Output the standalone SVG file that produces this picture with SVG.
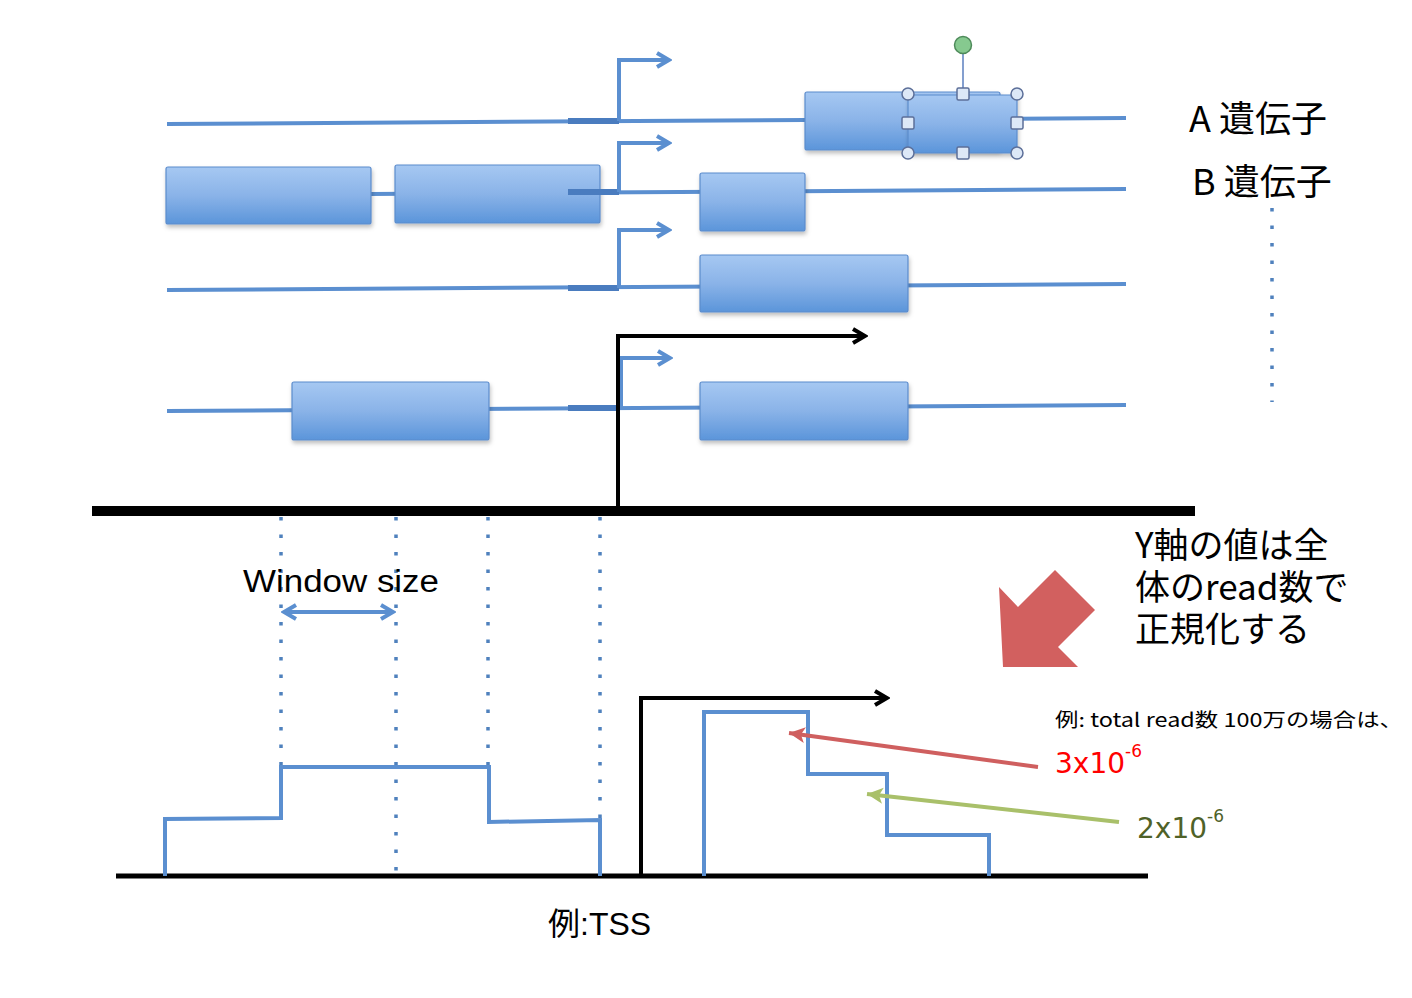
<svg xmlns="http://www.w3.org/2000/svg" width="1412" height="998" viewBox="0 0 1412 998">
<style>
.gl{stroke:#5b8fd0;stroke-width:4;fill:none;stroke-linecap:butt}
.stub{stroke:#4a7cbf;stroke-width:6;fill:none}
.prom{stroke:#5b8fd0;stroke-width:4;fill:none;marker-end:url(#mBlue)}
.box{fill:url(#gBox);stroke:#5b8ccc;stroke-width:1.2;filter:url(#sh)}
.blk{stroke:#000;fill:none}
.dot{stroke:#4f81bd;stroke-width:3.5;stroke-dasharray:3.5 14;fill:none}
.step{stroke:#5b8fd0;stroke-width:4;fill:none;stroke-linejoin:miter}
.jp{font-family:"Noto Sans CJK JP","Noto Sans",sans-serif;fill:#000}
.lat{font-family:"Liberation Sans","Noto Sans CJK JP",sans-serif;fill:#000}
.hc{fill:#dde8f7;stroke:#5c6f99;stroke-width:1.5}
</style>
<defs>
<linearGradient id="gBox" x1="0" y1="0" x2="0" y2="1">
<stop offset="0" stop-color="#a6c8f2"/>
<stop offset="0.5" stop-color="#8ab3e8"/>
<stop offset="1" stop-color="#5b95da"/>
</linearGradient>
<filter id="sh" x="-10%" y="-20%" width="120%" height="150%">
<feDropShadow dx="1" dy="3" stdDeviation="2" flood-color="#000" flood-opacity="0.25"/>
</filter>
<marker id="mBlue" markerUnits="userSpaceOnUse" viewBox="0 0 18 18" refX="15" refY="9" markerWidth="18" markerHeight="18" orient="auto">
<path d="M3,2 L15,9 L3,16" fill="none" stroke="#5b8fd0" stroke-width="4"/>
</marker>
<marker id="mBlueW" markerUnits="userSpaceOnUse" viewBox="0 0 18 18" refX="15" refY="9" markerWidth="18" markerHeight="18" orient="auto-start-reverse">
<path d="M3,2 L15,9 L3,16" fill="none" stroke="#5b8fd0" stroke-width="4"/>
</marker>
<marker id="mBlack" markerUnits="userSpaceOnUse" viewBox="0 0 18 18" refX="15" refY="9" markerWidth="18" markerHeight="18" orient="auto">
<path d="M3,2 L15,9 L3,16" fill="none" stroke="#000" stroke-width="4"/>
</marker>
<marker id="mRed" markerUnits="userSpaceOnUse" viewBox="0 0 20 20" refX="18" refY="10" markerWidth="20" markerHeight="20" orient="auto">
<path d="M2,2 L18,10 L2,18 L6,10 z" fill="#cf5f5f"/>
</marker>
<marker id="mGreen" markerUnits="userSpaceOnUse" viewBox="0 0 20 20" refX="18" refY="10" markerWidth="20" markerHeight="20" orient="auto">
<path d="M2,2 L18,10 L2,18 L6,10 z" fill="#a9c06a"/>
</marker>
</defs>
<rect x="0" y="0" width="1412" height="998" fill="#fff"/>

<g id="geneA">
<path class="gl" d="M167,124 L1126,118"/>
<path class="stub" d="M568,121 L619,121"/>
<rect class="box" x="805" y="92" width="195" height="58" rx="2"/>
<rect class="box" x="908" y="95" width="109" height="58" rx="1"/>
<path class="prom" d="M619,121 V60 H669"/>
</g>
<g id="selection">
<line x1="963" y1="53" x2="963" y2="89" stroke="#5b7fbf" stroke-width="1.5"/>
<circle cx="963" cy="45" r="8.5" fill="#86c98f" stroke="#4e8a5a" stroke-width="1.5"/>
<circle class="hc" cx="908" cy="94" r="6"/>
<circle class="hc" cx="1017" cy="94" r="6"/>
<circle class="hc" cx="908" cy="153" r="6"/>
<circle class="hc" cx="1017" cy="153" r="6"/>
<rect class="hc" x="957" y="88" width="12" height="12" rx="1.5"/>
<rect class="hc" x="957" y="147" width="12" height="12" rx="1.5"/>
<rect class="hc" x="902" y="117" width="12" height="12" rx="1.5"/>
<rect class="hc" x="1011" y="117" width="12" height="12" rx="1.5"/>
</g>

<g id="geneB">
<path class="gl" d="M371,194 L1126,189"/>
<rect class="box" x="166" y="167" width="205" height="57" rx="2"/>
<rect class="box" x="395" y="165" width="205" height="58" rx="2"/>
<path class="stub" d="M568,192 L619,192"/>
<rect class="box" x="700" y="173" width="105" height="58" rx="2"/>
<path class="prom" d="M619,192 V143 H669"/>
</g>

<g id="geneC">
<path class="gl" d="M167,290 L1126,284"/>
<path class="stub" d="M568,288 L619,288"/>
<rect class="box" x="700" y="255" width="208" height="57" rx="2"/>
<path class="prom" d="M619,288 V230 H669"/>
</g>

<g id="geneD">
<path class="gl" d="M167,411 L1126,405"/>
<rect class="box" x="292" y="382" width="197" height="58" rx="2"/>
<path class="stub" d="M568,408 L619,408"/>
<rect class="box" x="700" y="382" width="208" height="58" rx="2"/>
<path class="prom" d="M621,408 V358 H670"/>
</g>

<g id="labels">
<text class="jp" x="1189" y="132" font-size="36">A 遺伝子</text>
<text class="jp" x="1192" y="195" font-size="36">B 遺伝子</text>
<line class="dot" x1="1272" y1="208" x2="1272" y2="402"/>
</g>

<g id="connectors">
<line class="blk" x1="92" y1="511" x2="1195" y2="511" stroke-width="10"/>
<path class="blk" d="M618,511 V336 H865" stroke-width="4" marker-end="url(#mBlack)"/>
<line class="dot" x1="281" y1="517" x2="281" y2="766"/>
<line class="dot" x1="396" y1="517" x2="396" y2="874"/>
<line class="dot" x1="488" y1="517" x2="488" y2="766"/>
<line class="dot" x1="600" y1="517" x2="600" y2="818"/>
<line x1="284" y1="612" x2="393" y2="612" stroke="#5b8fd0" stroke-width="4" marker-start="url(#mBlueW)" marker-end="url(#mBlueW)"/>
<line class="blk" x1="116" y1="876" x2="1148" y2="876" stroke-width="5"/>
<path class="blk" d="M641,876 V698 H887" stroke-width="4" marker-end="url(#mBlack)"/>
<path class="step" d="M165,876 V819 L281,818 V767 H489 V822 L600,820 V876"/>
<path class="step" d="M704,876 V712 H808 V774 H887 V835 H989 V876"/>
<line x1="1038" y1="767" x2="789" y2="733" stroke="#cf5f5f" stroke-width="4" marker-end="url(#mRed)"/>
<line x1="1119" y1="822" x2="867" y2="794" stroke="#a9c06a" stroke-width="4" marker-end="url(#mGreen)"/>
</g>

<g id="bigArrow">
<polygon points="1055,570 1095,610 1058,647 1078,667 1003,667 999,587 1018,607" fill="#d2605f"/>
</g>

<g id="texts">
<text class="lat" x="243" y="592" font-size="31" textLength="196" lengthAdjust="spacingAndGlyphs" font-family="Open Sans, sans-serif">Window size</text>
<text class="lat" x="548" y="935" font-size="32">例:TSS</text>
<text class="jp" font-size="35"><tspan x="1135" y="558">Y軸の値は全</tspan><tspan x="1135" y="600">体のread数で</tspan><tspan x="1135" y="642">正規化する</tspan></text>
<text class="jp" x="1055" y="727" font-size="19" textLength="348" lengthAdjust="spacingAndGlyphs">例: total read数 100万の場合は、</text>
<text x="1055" y="773" font-size="28" fill="#ff0000" font-family="DejaVu Sans, sans-serif">3x10<tspan font-size="17" dy="-16">-6</tspan></text>
<text x="1137" y="838" font-size="28" fill="#4f6228" font-family="DejaVu Sans, sans-serif">2x10<tspan font-size="17" dy="-16">-6</tspan></text>
</g>
</svg>
